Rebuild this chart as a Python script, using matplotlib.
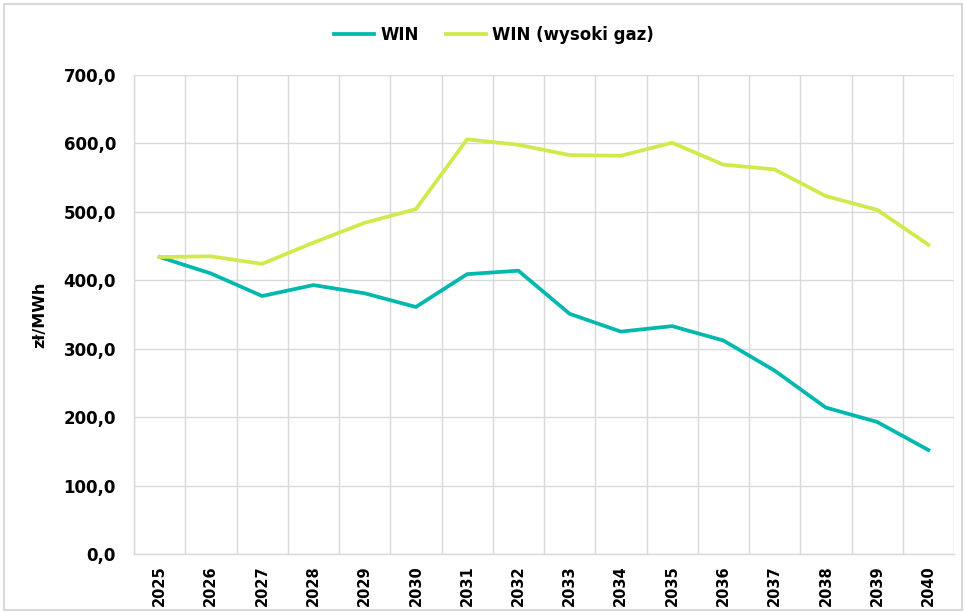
import matplotlib
matplotlib.use("Agg")
import matplotlib.pyplot as plt
from matplotlib.ticker import FuncFormatter, FixedLocator

years = [str(y) for y in range(2025, 2041)]
win = [434, 410, 377, 393, 381, 361, 409, 414, 351, 325, 333, 312, 268, 214, 193, 152]
win_gas = [434, 435, 424, 455, 484, 504, 606, 598, 583, 582, 601, 569, 562, 523, 503, 452]

c_win = "#00B8AE"
c_gas = "#D2E94B"
grid_c = "#D9D9D9"

fig = plt.figure(figsize=(9.66, 6.12), dpi=100)
ax = fig.add_axes([134/966, 1-554/612, (954-134)/966, (554-75)/612])

x = list(range(len(years)))
ax.plot(x, win, color=c_win, lw=2.7, label="WIN", solid_joinstyle="round")
ax.plot(x, win_gas, color=c_gas, lw=2.7, label="WIN (wysoki gaz)", solid_joinstyle="round")

ax.set_xlim(-0.5, len(years) - 0.5)
ax.set_ylim(0, 700)
ax.set_yticks(range(0, 701, 100))
ax.yaxis.set_major_formatter(FuncFormatter(lambda v, p: f"{v:.1f}".replace(".", ",")))
ax.set_xticks(x)
ax.set_xticklabels(years, rotation=90, fontweight="bold", fontsize=10.5)
ax.xaxis.set_minor_locator(FixedLocator([i + 0.5 for i in range(-1, len(years))]))
for lab in ax.get_yticklabels():
    lab.set_fontweight("bold")
    lab.set_fontsize(12)
ax.tick_params(axis="both", which="both", length=0)
ax.tick_params(axis="y", pad=13)
ax.tick_params(axis="x", pad=8)
ax.grid(axis="y", which="major", color=grid_c, lw=1)
ax.grid(axis="x", which="minor", color=grid_c, lw=1)
ax.grid(axis="x", which="major", visible=False)
ax.set_axisbelow(True)
for s in ["top", "right"]:
    ax.spines[s].set_visible(False)
for s in ["left", "bottom"]:
    ax.spines[s].set_color(grid_c)
    ax.spines[s].set_linewidth(1)

ax.set_ylabel("zł/MWh", fontweight="bold", fontsize=11.5, labelpad=12)

fig.legend(loc="center", bbox_to_anchor=(494/966, 1-35/612), ncol=2, frameon=False,
           prop={"weight": "bold", "size": 12}, handlelength=2.4, columnspacing=1.6,
           handletextpad=0.4)

border = plt.Rectangle((0.004, 0.004), 0.992, 0.99, transform=fig.transFigure,
                       fill=False, edgecolor="#D9D9D9", lw=1.5)
fig.patches.append(border)

fig.savefig("out.png", dpi=100)
